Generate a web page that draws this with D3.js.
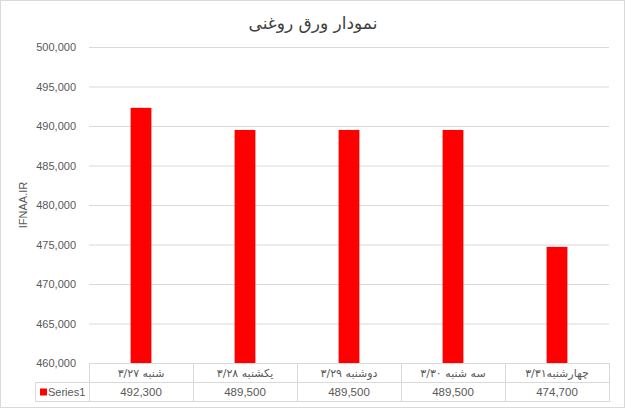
<!DOCTYPE html>
<html><head><meta charset="utf-8">
<script src="https://cdn.jsdelivr.net/npm/d3@7"></script>
<style>
html,body{margin:0;padding:0;background:#fff;}
svg{display:block;}
text{font-family:"DejaVu Sans","Noto Sans",sans-serif;}
</style></head>
<body><svg id="c" width="625" height="408"></svg>
<script>
const title = "نمودار ورق روغنی";
const yAxisLabel = "IFNAA.IR";
const seriesName = "Series1";
const categories = ["شنبه ۳/۲۷", "یکشنبه ۳/۲۸", "دوشنبه ۳/۲۹", "سه شنبه ۳/۳۰", "چهارشنبه۳/۳۱"];
const values = [492300, 489500, 489500, 489500, 474700];
const yTicks = [460000, 465000, 470000, 475000, 480000, 485000, 490000, 495000, 500000];

(function(){
const svg = d3.select("#c");
const W = 625, H = 408;
const pLeft = 89, pRight = 609, pTop = 47, pBottom = 363;
const rowH = 19;
const grid = "#d9d9d9", txt = "#595959";

svg.append("rect").attr("x",0.5).attr("y",0.5).attr("width",W-1).attr("height",H-1)
  .attr("fill","#fff").attr("stroke","#d9d9d9");

svg.append("text").attr("x",313).attr("y",29).attr("text-anchor","middle")
  .attr("direction","rtl").style("font-size","17px").attr("fill","#404040").text(title);

const x = d3.scaleBand().domain(categories).range([pLeft,pRight]).paddingInner(0.8).paddingOuter(0.4);
const xs = d3.scaleBand().domain(categories).range([pLeft,pRight]).padding(0);
const y = d3.scaleLinear().domain([460000,500000]).range([pBottom,pTop]);
const fmt = d3.format(",");

const ax = svg.append("g").attr("transform",`translate(${pLeft},0)`)
  .call(d3.axisLeft(y).tickValues(yTicks).tickSize(-(pRight-pLeft)).tickPadding(13).tickFormat(fmt));
ax.select(".domain").remove();
ax.selectAll(".tick line").attr("stroke",grid).attr("stroke-width",1);
ax.selectAll(".tick text").attr("fill",txt).style("font-size","11px").style("font-family","'Liberation Sans',sans-serif");

svg.append("text").attr("transform","translate(27,205) rotate(-90)").attr("text-anchor","middle")
  .attr("fill",txt).style("font-size","11px").style("font-family","'Liberation Sans',sans-serif").text(yAxisLabel);

svg.append("g").selectAll("rect").data(values).join("rect")
  .attr("x",(d,i)=>x(categories[i])).attr("width",x.bandwidth())
  .attr("y",d=>y(d)).attr("height",d=>y(460000)-y(d)).attr("fill","#ff0000");

const tg = svg.append("g").attr("stroke",grid).attr("stroke-width",1).attr("fill","none");
const lines = [
  [pLeft, pBottom+0.5, pRight, pBottom+0.5],
  [35, pBottom+rowH+0.5, pRight, pBottom+rowH+0.5],
  [35, pBottom+2*rowH+0.5, pRight, pBottom+2*rowH+0.5],
  [35.5, pBottom+rowH, 35.5, pBottom+2*rowH+1]
];
categories.forEach(c=>{ lines.push([Math.round(xs(c))+0.5, pBottom, Math.round(xs(c))+0.5, pBottom+2*rowH+1]); });
lines.push([pRight+0.5, pBottom, pRight+0.5, pBottom+2*rowH+1]);
tg.selectAll("line").data(lines).join("line")
  .attr("x1",d=>d[0]).attr("y1",d=>d[1]).attr("x2",d=>d[2]).attr("y2",d=>d[3]);

svg.append("g").selectAll("text").data(categories).join("text")
  .attr("x",d=>xs(d)+xs.bandwidth()/2).attr("y",pBottom+rowH/2+4).attr("text-anchor","middle")
  .attr("direction","rtl").attr("fill",txt).style("font-size","11px").text(d=>d);

svg.append("g").selectAll("text").data(values).join("text")
  .attr("x",(d,i)=>xs(categories[i])+xs.bandwidth()/2).attr("y",pBottom+rowH*1.5+4.5).attr("text-anchor","middle")
  .attr("fill",txt).style("font-size","11.5px").style("font-family","'Liberation Sans',sans-serif").text(d=>fmt(d));

svg.append("rect").attr("x",40).attr("y",pBottom+rowH*1.5-3).attr("width",7).attr("height",7).attr("fill","#ff0000");
svg.append("text").attr("x",48).attr("y",pBottom+rowH*1.5+4.5).attr("fill",txt)
  .style("font-size","11px").style("font-family","'Liberation Sans',sans-serif").text(seriesName);
})();
</script></body></html>
